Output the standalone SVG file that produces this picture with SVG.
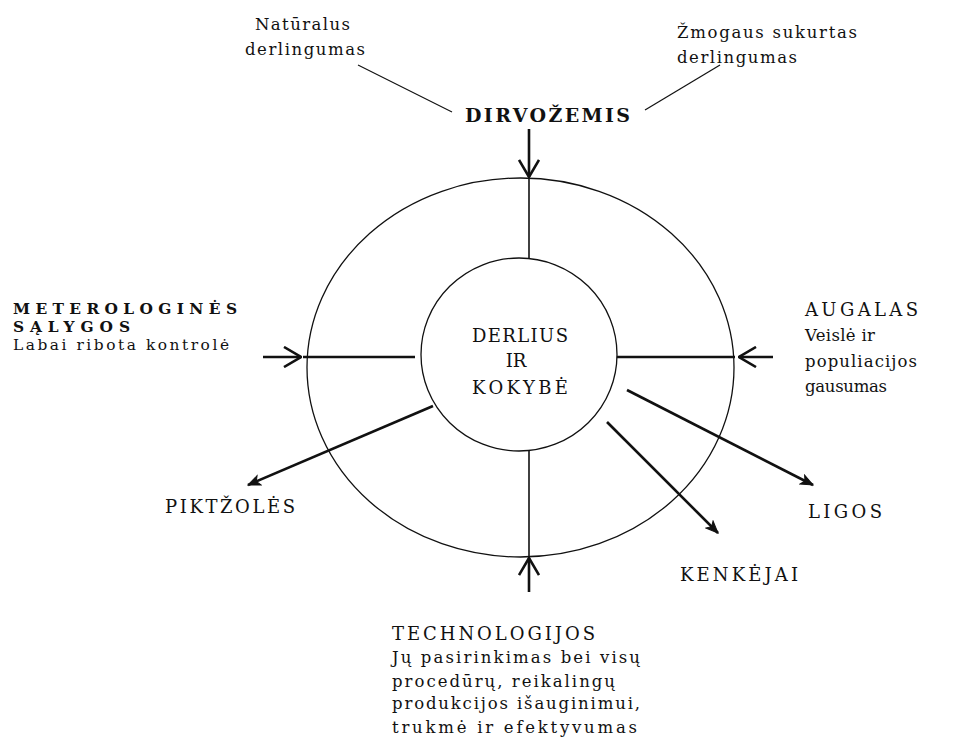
<svg xmlns="http://www.w3.org/2000/svg" width="957" height="747" viewBox="0 0 957 747">
<defs>
<style>
text{font-family:"DejaVu Serif","Liberation Serif",serif;font-size:16.5px;fill:#111}
.b{font-weight:bold}
.s{font-size:15.4px}
.c{font-size:18px}
.t{font-size:19px}
.thin{stroke:#111;stroke-width:1.2;fill:none}
.mid{stroke:#111;stroke-width:1.6;fill:none}
.thick{stroke:#111;stroke-width:2.6;fill:none}
.shape{stroke:#111;stroke-width:1.3;fill:#fff}
</style>
<marker id="big" markerUnits="userSpaceOnUse" viewBox="0 0 20 22" refX="19" refY="11" markerWidth="20" markerHeight="22" orient="auto">
<path d="M2,1 L19,11 L2,21" fill="none" stroke="#111" stroke-width="2.6"/>
</marker>
<marker id="small" markerUnits="userSpaceOnUse" viewBox="0 0 14 12" refX="13" refY="6" markerWidth="14" markerHeight="12" orient="auto">
<path d="M1,1 L13,6 L1,11 L4,6 Z" fill="#111" stroke="#111" stroke-width="1"/>
</marker>
</defs>
<g id="rings">
<ellipse id="outer" class="shape" cx="520.5" cy="367.5" rx="213.5" ry="189.5"/>
</g>
<g id="connectors">
<line class="thin" x1="358" y1="65" x2="452" y2="112"/>
<line class="thin" x1="645" y1="110" x2="720" y2="65"/>
<line class="thick" x1="529" y1="129" x2="529" y2="177" marker-end="url(#big)"/>
<line class="mid" x1="529" y1="178" x2="529" y2="258"/>
<line class="mid" x1="529" y1="451" x2="529" y2="557"/>
<line class="thick" x1="529" y1="592" x2="529" y2="558" marker-end="url(#big)"/>
<line class="thick" x1="263" y1="357" x2="301" y2="357" marker-end="url(#big)"/>
<line class="thick" x1="303" y1="357" x2="415" y2="357"/>
<line class="thick" x1="612" y1="357" x2="735" y2="357"/>
<line class="thick" x1="773" y1="357" x2="739" y2="357" marker-end="url(#big)"/>
<line class="thick" x1="433" y1="406" x2="248" y2="485" marker-end="url(#small)"/>
<line class="thick" x1="627" y1="390" x2="813" y2="485" marker-end="url(#small)"/>
<line class="thick" x1="607" y1="422" x2="718" y2="533" marker-end="url(#small)"/>
</g>
<g id="center">
<ellipse class="shape" cx="519" cy="354.5" rx="98" ry="96.5"/>
<text class="c" x="472" y="342" textLength="96" lengthAdjust="spacing">DERLIUS</text>
<text class="c" x="516" y="367" text-anchor="middle">IR</text>
<text class="c" x="472" y="394" textLength="96" lengthAdjust="spacing">KOKYBĖ</text>
</g>
<g id="dirvozemis">
<text class="b t" x="465" y="122" textLength="165" lengthAdjust="spacing">DIRVOŽEMIS</text>
</g>
<g id="naturalus">
<text x="255" y="30" textLength="95" lengthAdjust="spacing">Natūralus</text>
<text x="245" y="55" textLength="120" lengthAdjust="spacing">derlingumas</text>
</g>
<g id="zmogaus">
<text x="677" y="38" textLength="180" lengthAdjust="spacing">Žmogaus sukurtas</text>
<text x="677" y="63" textLength="120" lengthAdjust="spacing">derlingumas</text>
</g>
<g id="meteo">
<text class="b s" x="13" y="314" textLength="224" lengthAdjust="spacing">METEROLOGINĖS</text>
<text class="b s" x="13" y="332" textLength="117" lengthAdjust="spacing">SĄLYGOS</text>
<text class="s" x="13" y="350" textLength="216" lengthAdjust="spacing">Labai ribota  kontrolė</text>
</g>
<g id="augalas">
<text class="c" x="805" y="316" textLength="113" lengthAdjust="spacing">AUGALAS</text>
<text x="805" y="341" textLength="70" lengthAdjust="spacing">Veislė ir</text>
<text x="805" y="367" textLength="112" lengthAdjust="spacing">populiacijos</text>
<text x="805" y="392" textLength="82" lengthAdjust="spacing">gausumas</text>
</g>
<g id="piktzoles">
<text class="c" x="165" y="513" textLength="130" lengthAdjust="spacing">PIKTŽOLĖS</text>
</g>
<g id="ligos">
<text class="c" x="808" y="518" textLength="74" lengthAdjust="spacing">LIGOS</text>
</g>
<g id="kenkejai">
<text class="c" x="680" y="581" textLength="118" lengthAdjust="spacing">KENKĖJAI</text>
</g>
<g id="technologijos">
<text class="c" x="392" y="640" textLength="203" lengthAdjust="spacing">TECHNOLOGIJOS</text>
<text x="392" y="663" textLength="248" lengthAdjust="spacing">Jų pasirinkimas  bei visų</text>
<text x="392" y="687" textLength="223" lengthAdjust="spacing">procedūrų, reikalingų</text>
<text x="392" y="709" textLength="248" lengthAdjust="spacing">produkcijos išauginimui,</text>
<text x="392" y="733" textLength="245" lengthAdjust="spacing">trukmė ir efektyvumas</text>
</g>
</svg>
